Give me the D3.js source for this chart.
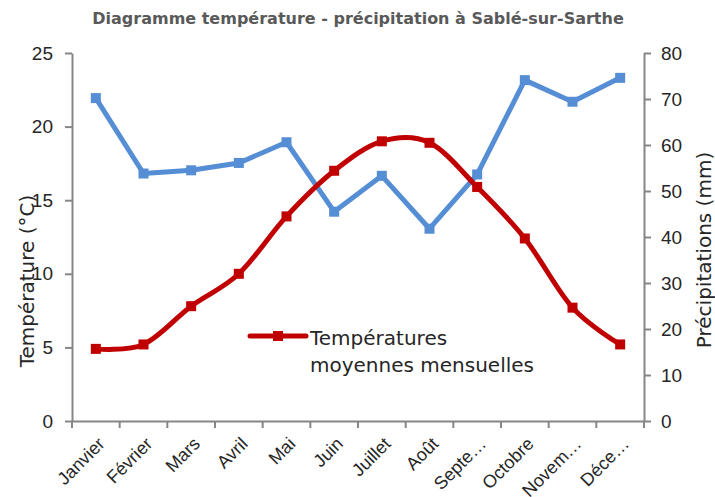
<!DOCTYPE html>
<html>
<head>
<meta charset="utf-8">
<script src="https://cdn.jsdelivr.net/npm/d3@7"></script>
<style>
  body { margin: 0; background: #fff; }
  svg { font-family: "DejaVu Sans", sans-serif; }
  .axis path, .axis line { stroke: #868686; stroke-width: 2; }
  .axis text { fill: #262626; }
</style>
</head>
<body>
<div id="chart"></div>
<script>
// ── DATA ─────────────────────────────────────────────────────────────────────
const months = ['Janvier', 'Février', 'Mars', 'Avril', 'Mai', 'Juin', 'Juillet',
                'Août', 'Septe…', 'Octobre', 'Novem…', 'Déce…'];
const temperature   = [4.9, 5.2, 7.8, 10.0, 13.9, 17.0, 19.0, 18.9, 15.9, 12.4, 7.7, 5.2];
const precipitation = [70.2, 53.8, 54.5, 56.1, 60.6, 45.5, 53.3, 41.8, 53.6, 74.1, 69.4, 74.6];
const tempTicks   = [0, 5, 10, 15, 20, 25];
const precipTicks = [0, 10, 20, 30, 40, 50, 60, 70, 80];

// ── DIMENSIONS ───────────────────────────────────────────────────────────────
const W = 715, H = 497;
const plot = { left: 72, right: 644, top: 53, bottom: 421 };

const svg = d3.select('#chart').append('svg')
  .attr('width', W).attr('height', H);

svg.append('rect').attr('width', W).attr('height', H).attr('fill', '#fff');

// ── SCALES ───────────────────────────────────────────────────────────────────
const x  = d3.scaleBand().domain(months).range([plot.left, plot.right]);
const yT = d3.scaleLinear().domain([0, 25]).range([plot.bottom, plot.top]);
const yP = d3.scaleLinear().domain([0, 80]).range([plot.bottom, plot.top]);
const cx = m => x(m) + x.bandwidth() / 2;

// ── TITLE ────────────────────────────────────────────────────────────────────
svg.append('text')
  .attr('x', 358).attr('y', 24)
  .attr('text-anchor', 'middle')
  .attr('font-size', 16).attr('font-weight', 'bold')
  .attr('fill', '#595959')
  .text('Diagramme température - précipitation à Sablé-sur-Sarthe');

// ── AXES ─────────────────────────────────────────────────────────────────────
const leftAxis = svg.append('g').attr('class', 'axis')
  .attr('transform', `translate(${plot.left},0)`)
  .call(d3.axisLeft(yT).tickValues(tempTicks).tickSize(7).tickSizeOuter(0).tickPadding(12));
leftAxis.selectAll('text').attr('font-size', 19);

const rightAxis = svg.append('g').attr('class', 'axis')
  .attr('transform', `translate(${plot.right},0)`)
  .call(d3.axisRight(yP).tickValues(precipTicks).tickSize(7).tickSizeOuter(0).tickPadding(10));
rightAxis.selectAll('text').attr('font-size', 19);

const bottomAxis = svg.append('g').attr('class', 'axis')
  .attr('transform', `translate(0,${plot.bottom})`)
  .call(d3.axisBottom(x).tickSize(0).tickSizeOuter(0).tickPadding(0));
bottomAxis.selectAll('.tick text')
  .attr('font-size', 18)
  .attr('text-anchor', 'end')
  .attr('dy', 0)
  .attr('transform', 'translate(10,24) rotate(-45)');

// tick marks sit on the category boundaries
const boundaries = months.map(m => x(m)).concat([x.range()[1]]);
bottomAxis.selectAll('.bnd')
  .data(boundaries)
  .join('line')
    .attr('class', 'bnd')
    .attr('x1', d => d).attr('x2', d => d)
    .attr('y1', 0).attr('y2', 7);

// axis titles
svg.append('text')
  .attr('transform', 'translate(34,281) rotate(-90)')
  .attr('text-anchor', 'middle')
  .attr('font-size', 20).attr('fill', '#262626')
  .text('Température (°C)');

svg.append('text')
  .attr('transform', 'translate(711,250) rotate(-90)')
  .attr('text-anchor', 'middle')
  .attr('font-size', 20).attr('fill', '#262626')
  .text('Précipitations (mm)');

// ── LINES ────────────────────────────────────────────────────────────────────
const blue = '#558ed5', red = '#c00000';

const precipLine = d3.line()
  .x((d, i) => cx(months[i]))
  .y(d => yP(d));

const tempLine = d3.line()
  .x((d, i) => cx(months[i]))
  .y(d => yT(d))
  .curve(d3.curveCardinal.tension(0));

svg.append('path')
  .datum(precipitation)
  .attr('d', precipLine)
  .attr('fill', 'none').attr('stroke', blue)
  .attr('stroke-width', 5).attr('stroke-linejoin', 'round');

svg.selectAll('.pm')
  .data(precipitation)
  .join('rect')
    .attr('class', 'pm')
    .attr('x', (d, i) => cx(months[i]) - 5)
    .attr('y', d => yP(d) - 5)
    .attr('width', 10).attr('height', 10)
    .attr('fill', blue);

svg.append('path')
  .datum(temperature)
  .attr('d', tempLine)
  .attr('fill', 'none').attr('stroke', red)
  .attr('stroke-width', 5).attr('stroke-linejoin', 'round');

svg.selectAll('.tm')
  .data(temperature)
  .join('rect')
    .attr('class', 'tm')
    .attr('x', (d, i) => cx(months[i]) - 5)
    .attr('y', d => yT(d) - 5)
    .attr('width', 10).attr('height', 10)
    .attr('fill', red);

// ── LEGEND ───────────────────────────────────────────────────────────────────
const legend = svg.append('g').attr('transform', 'translate(250,336)');
legend.append('line')
  .attr('x1', 0).attr('x2', 56).attr('y1', 0).attr('y2', 0)
  .attr('stroke', red).attr('stroke-width', 5).attr('stroke-linecap', 'round');
legend.append('rect')
  .attr('x', 23).attr('y', -5).attr('width', 10).attr('height', 10)
  .attr('fill', red);
legend.append('text')
  .attr('x', 60).attr('y', 9)
  .attr('font-size', 20).attr('fill', '#262626')
  .text('Températures');
legend.append('text')
  .attr('x', 60).attr('y', 36)
  .attr('font-size', 20).attr('fill', '#262626')
  .text('moyennes mensuelles');
</script>
</body>
</html>
